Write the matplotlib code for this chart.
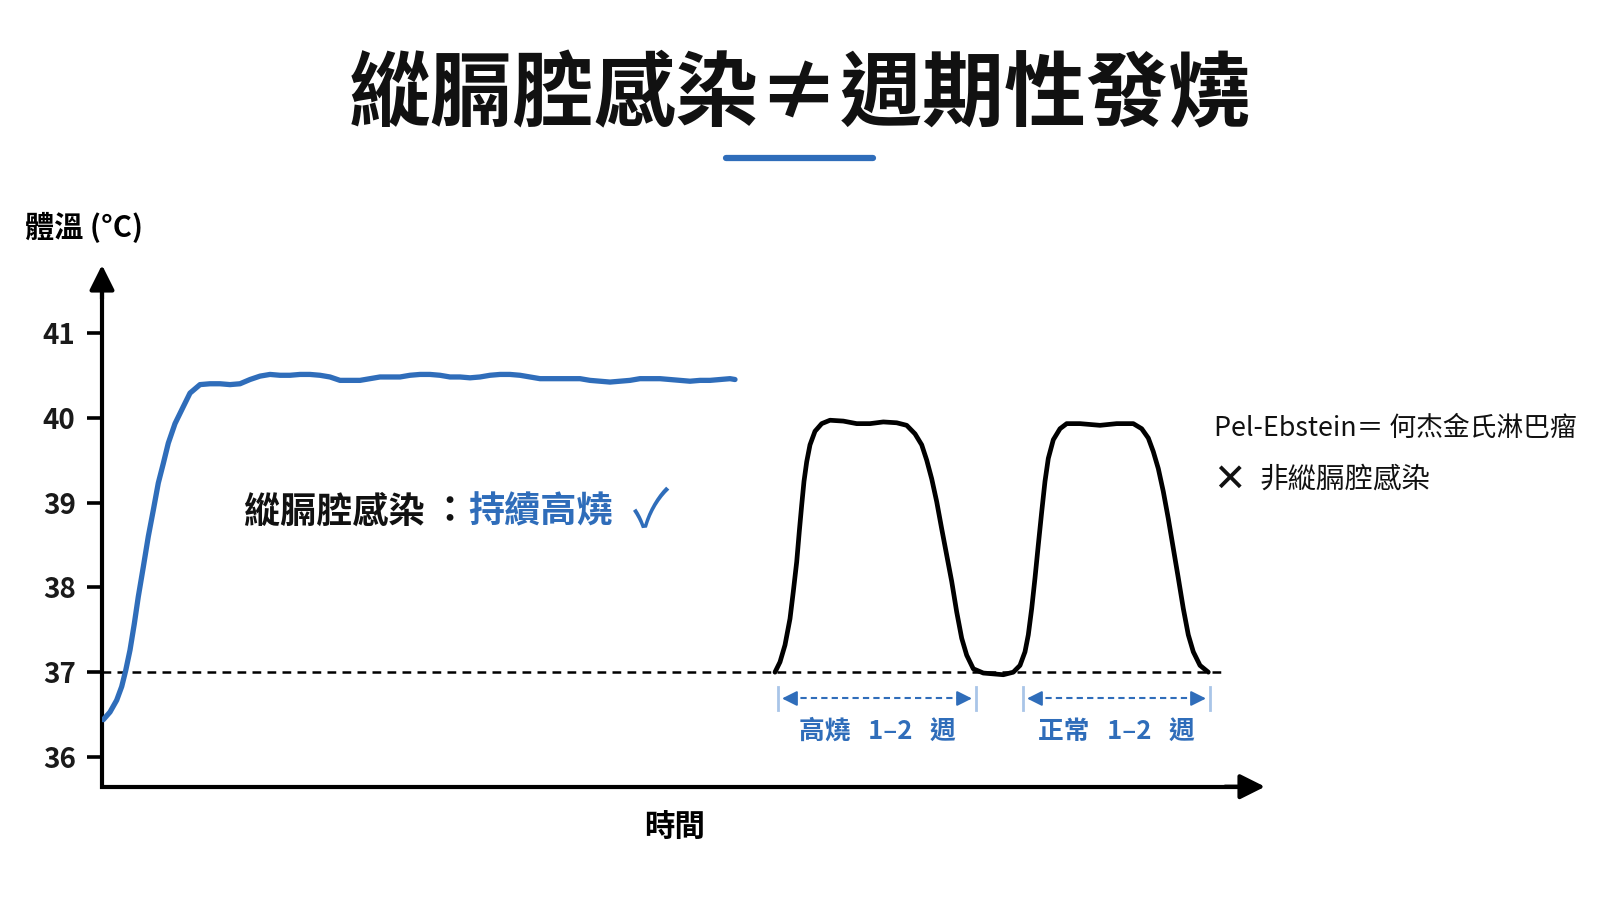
import matplotlib
matplotlib.use("Agg")
import matplotlib.pyplot as plt

plt.rcParams['font.family'] = ['Noto Sans CJK TC', 'DejaVu Sans']

# ---------------- data ----------------
title = "縱膈腔感染≠週期性發燒"
y_label = "體溫 (°C)"
x_label = "時間"
y_ticks = [36, 37, 38, 39, 40, 41]
baseline_temp = 37

# mediastinal infection: sustained high fever (blue)
mi_time = [0.13, 0.8, 1.47, 1.97, 2.37, 2.8, 3.23, 3.63, 4.13, 4.63, 5.13, 5.63, 6.13, 6.63,
           7.3, 8.13, 8.8, 9.8, 10.8, 11.8, 12.8, 13.8, 14.8, 15.8, 16.8, 17.8, 18.8, 19.8,
           20.8, 21.8, 22.8, 23.8, 24.8, 25.8, 26.8, 27.8, 28.8, 29.8, 30.8, 31.8, 32.8,
           33.8, 34.8, 35.8, 36.8, 37.8, 38.8, 39.8, 40.8, 41.8, 42.8, 43.8, 44.8, 45.8,
           46.8, 47.8, 48.8, 49.8, 50.8, 51.8, 52.8, 53.8, 54.8, 55.8, 56.8, 57.8, 58.8,
           59.8, 60.8, 61.8, 62.8, 63.3]
mi_temp = [36.44, 36.53, 36.67, 36.83, 37.02, 37.26, 37.57, 37.89, 38.24, 38.60, 38.91, 39.23, 39.46, 39.70,
           39.93, 40.13, 40.29, 40.39, 40.40, 40.40, 40.39, 40.40, 40.45, 40.49, 40.51, 40.50, 40.50, 40.51,
           40.51, 40.50, 40.48, 40.44, 40.44, 40.44, 40.46, 40.48, 40.48, 40.48, 40.50, 40.51, 40.51,
           40.50, 40.48, 40.48, 40.47, 40.48, 40.50, 40.51, 40.51, 40.50, 40.48, 40.46, 40.46, 40.46,
           40.46, 40.46, 40.44, 40.43, 40.42, 40.43, 40.44, 40.46, 40.46, 40.46, 40.45, 40.44, 40.43,
           40.44, 40.44, 40.45, 40.46, 40.45]

# Pel-Ebstein fever (black)
pe_time = [67.3, 67.8, 68.3, 68.8, 69.13, 69.47, 69.73, 69.97, 70.2, 70.47, 70.8, 71.3, 71.97,
           72.8, 74.13, 75.47, 76.8, 78.13, 79.47, 80.47, 81.3, 81.97, 82.47, 82.97, 83.47,
           83.97, 84.47, 84.97, 85.47, 85.97, 86.47, 87.13, 88.13, 90.13, 91.13, 91.8, 92.3,
           92.63, 92.97, 93.3, 93.63, 93.97, 94.3, 94.63, 95.13, 95.8, 96.47, 97.8, 99.8,
           101.47, 103.13, 103.97, 104.63, 105.13, 105.63, 106.13, 106.63, 107.13, 107.63,
           108.13, 108.63, 109.13, 109.8, 110.63]
pe_temp = [37.00, 37.12, 37.32, 37.63, 37.95, 38.30, 38.66, 38.97, 39.25, 39.48, 39.68, 39.84, 39.93,
           39.97, 39.96, 39.93, 39.93, 39.95, 39.94, 39.91, 39.81, 39.68, 39.50, 39.28, 39.01,
           38.69, 38.38, 38.07, 37.71, 37.40, 37.20, 37.04, 36.99, 36.97, 37.00, 37.08, 37.24,
           37.44, 37.75, 38.11, 38.50, 38.89, 39.25, 39.52, 39.74, 39.87, 39.93, 39.93, 39.91,
           39.93, 39.93, 39.87, 39.76, 39.60, 39.40, 39.13, 38.81, 38.46, 38.11,
           37.75, 37.44, 37.24, 37.08, 37.00]

# phase spans (time units)
phase_labels = ["高燒   1–2   週", "正常   1–2   週"]
phase_start = [67.6, 92.1]
phase_end = [87.4, 110.8]

# ---------------- style ----------------
BLUE = '#2F6DBA'
LIGHT_BLUE = '#A9C5E8'
W, H = 1600, 900

def fx(x):
    return x / W

def fy(y):
    return 1 - y / H

fig = plt.figure(figsize=(16, 9), dpi=100, facecolor='white')

ax_left, ax_right = 102, 1265
ax_top, ax_bottom = 265, 786.7
x_min, x_max = 0, 116.3
y_min, y_max = 35.65, 41.8
ax = fig.add_axes([fx(ax_left), fy(ax_bottom), (ax_right - ax_left) / W, (ax_bottom - ax_top) / H])
ax.set_xlim(x_min, x_max)
ax.set_ylim(y_min, y_max)
ax.set_facecolor('none')
for s in ax.spines.values():
    s.set_visible(False)

# axes lines with arrow heads
ax.plot([x_min, x_min, x_max - 1.2], [y_max - 0.15, y_min, y_min], color='black', lw=3,
        solid_joinstyle='miter', clip_on=False, zorder=3)
ax.annotate('', xy=(x_min, y_max), xytext=(x_min, y_max - 0.4),
            arrowprops=dict(arrowstyle='-|>,head_length=1.5,head_width=0.75', lw=3, color='black',
                            shrinkA=0, shrinkB=0), annotation_clip=False, zorder=3)
ax.annotate('', xy=(x_max, y_min), xytext=(x_max - 4, y_min),
            arrowprops=dict(arrowstyle='-|>,head_length=1.5,head_width=0.75', lw=3, color='black',
                            shrinkA=0, shrinkB=0), annotation_clip=False, zorder=3)

ax.set_yticks(y_ticks)
ax.set_yticklabels([str(t) for t in y_ticks])
ax.tick_params(axis='y', length=11, width=2.6, direction='out', pad=8, labelsize=20, colors='black')
for lab in ax.get_yticklabels():
    lab.set_fontweight('bold')
    lab.set_color('#1a1a1a')
ax.set_xticks([])

# baseline 37
ax.plot([x_min, 112.3], [baseline_temp, baseline_temp], color='black', lw=1.8,
        ls=(0, (3.5, 2.5)), zorder=1)

# curves
ax.plot(mi_time, mi_temp, color=BLUE, lw=3.8, solid_capstyle='round', solid_joinstyle='round', zorder=4)
ax.plot(pe_time, pe_temp, color='black', lw=3.4, solid_capstyle='round', solid_joinstyle='round', zorder=4)

# phase span arrows
arrow_y = 36.69
for s, e, lab in zip(phase_start, phase_end, phase_labels):
    ax.plot([s, s], [36.56, 36.83], color=LIGHT_BLUE, lw=2, zorder=2)
    ax.plot([e, e], [36.56, 36.83], color=LIGHT_BLUE, lw=2, zorder=2)
    ax.plot([s + 1.2, e - 1.2], [arrow_y, arrow_y], color=BLUE, lw=1.5, ls=(0, (3, 2)), zorder=2)
    ax.annotate('', xy=(s + 0.4, arrow_y), xytext=(s + 1.6, arrow_y),
                arrowprops=dict(arrowstyle='-|>,head_length=0.9,head_width=0.45', lw=1.5, color=BLUE,
                                shrinkA=0, shrinkB=0))
    ax.annotate('', xy=(e - 0.4, arrow_y), xytext=(e - 1.6, arrow_y),
                arrowprops=dict(arrowstyle='-|>,head_length=0.9,head_width=0.45', lw=1.5, color=BLUE,
                                shrinkA=0, shrinkB=0))
    ax.text((s + e) / 2, 36.30, lab, color=BLUE, fontsize=18.5, fontweight='bold',
            ha='center', va='center')

# ---------------- texts ----------------
fig.text(fx(800), fy(96), title, fontsize=59, fontweight='black', ha='center', va='center', color='#111111')
fig.add_artist(plt.Line2D([fx(726), fx(873)], [fy(158), fy(158)], color=BLUE, lw=4.5,
                          solid_capstyle='round'))

fig.text(fx(25), fy(227), y_label, fontsize=21, fontweight='bold', ha='left', va='center')
fig.text(fx(675), fy(828), x_label, fontsize=22, fontweight='bold', ha='center', va='center')

fig.text(fx(244), fy(512), "縱膈腔感染", fontsize=26, fontweight='bold', ha='left', va='center', color='#111111')
fig.text(fx(449), fy(512), "：", fontsize=26, fontweight='bold', ha='center', va='center', color='#111111')
fig.text(fx(468), fy(512), "持續高燒", fontsize=26, fontweight='bold', ha='left', va='center', color=BLUE)
fig.text(fx(651), fy(511), "✓", fontsize=38, fontweight='light', ha='center', va='center', color=BLUE,
         family=['Noto Sans CJK TC', 'DejaVu Sans'])

fig.text(fx(1214), fy(428), "Pel-Ebstein＝ 何杰金氏淋巴瘤", fontsize=19.3, fontweight='medium',
         ha='left', va='center', color='#111111')
fig.text(fx(1229), fy(480), "✕", fontsize=28, fontweight='bold', ha='center', va='center', color='#111111',
         family=['DejaVu Sans'])
fig.text(fx(1259), fy(480), "非縱膈腔感染", fontsize=20.5, fontweight='medium', ha='left', va='center',
         color='#111111')

fig.savefig('out.png', dpi=100, facecolor='white')
